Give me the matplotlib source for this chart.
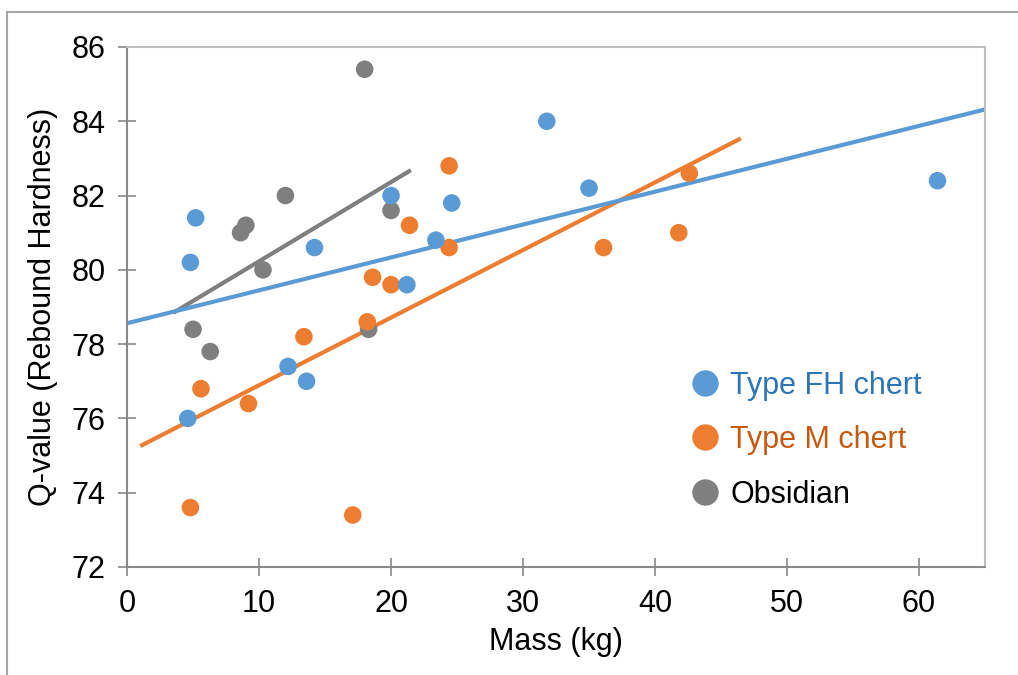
import numpy as np
import matplotlib
matplotlib.use("Agg")
import matplotlib.pyplot as plt
from matplotlib.lines import Line2D

plt.rcParams['font.family'] = ['Liberation Sans', 'DejaVu Sans']

# Type FH chert
fh_mass = [4.6, 4.8, 5.2, 12.2, 13.6, 14.2, 20.0, 21.2, 23.4, 24.6, 31.8, 35.0, 61.4]
fh_q = [76.0, 80.2, 81.4, 77.4, 77.0, 80.6, 82.0, 79.6, 80.8, 81.8, 84.0, 82.2, 82.4]

# Type M chert
m_mass = [4.8, 5.6, 9.2, 13.4, 17.1, 18.2, 18.6, 20.0, 21.4, 24.4, 24.4, 36.1, 41.8, 42.6]
m_q = [73.6, 76.8, 76.4, 78.2, 73.4, 78.6, 79.8, 79.6, 81.2, 82.8, 80.6, 80.6, 81.0, 82.6]

# Obsidian
ob_mass = [5.0, 6.3, 8.6, 9.0, 10.3, 12.0, 18.0, 18.3, 20.0]
ob_q = [78.4, 77.8, 81.0, 81.2, 80.0, 82.0, 85.4, 78.4, 81.6]

# trendline extents (x from, x to)
fh_span = [0, 65]
m_span = [1, 46.5]
ob_span = [3.5, 21.5]

blue = '#5B9BD5'
orange = '#ED7D31'
gray = '#7F7F7F'

fig = plt.figure(figsize=(10.18, 6.75), dpi=100)
ax = fig.add_axes([0.1248, 0.16, 0.8428, 0.7704])

series = [
    (ob_mass, ob_q, ob_span, gray, 3),
    (m_mass, m_q, m_span, orange, 4),
    (fh_mass, fh_q, fh_span, blue, 5),
]
for xs, ys, span, col, z in series:
    k, b = np.polyfit(xs, ys, 1)
    lx = np.array(span)
    ax.plot(lx, k * lx + b, color=col, lw=3, solid_capstyle='butt', zorder=2)
    ax.scatter(xs, ys, s=160, color=col, edgecolors='none', zorder=z)

ax.set_xlim(0, 65)
ax.set_ylim(72, 86)
ax.set_xticks(range(0, 61, 10))
ax.set_yticks(range(72, 87, 2))
ax.tick_params(direction='inout', length=13, width=1.2, color='#898989',
               labelsize=22, pad=9)

for s in ['left', 'bottom']:
    ax.spines[s].set_color('#898989')
    ax.spines[s].set_linewidth(1.5)
for s in ['top', 'right']:
    ax.spines[s].set_color('#BFBFBF')
    ax.spines[s].set_linewidth(1.5)

ax.set_xlabel('Mass (kg)', fontsize=22, labelpad=6)
ax.set_ylabel('Q-value (Rebound Hardness)', fontsize=22, labelpad=10)

handles = [Line2D([], [], ls='none', marker='o', ms=19, color=c, markeredgewidth=0)
           for c in [blue, orange, gray]]
leg = ax.legend(handles, ['Type FH chert', 'Type M chert', 'Obsidian'],
                loc='center left', bbox_to_anchor=(0.659, 0.244), frameon=False,
                borderpad=0, borderaxespad=0,
                fontsize=22, handlelength=0.8, handletextpad=0.43, labelspacing=0.8)
for t, c in zip(leg.get_texts(), ['#2E75B6', '#C55A11', 'black']):
    t.set_color(c)

# chart area border
fig.add_artist(Line2D([7 / 1018, 1], [1 - 12 / 675, 1 - 12 / 675], color='#A6A6A6', lw=1.5))
fig.add_artist(Line2D([7 / 1018, 7 / 1018], [0, 1 - 12 / 675], color='#A6A6A6', lw=1.5))

fig.savefig('out.png', dpi=100)
